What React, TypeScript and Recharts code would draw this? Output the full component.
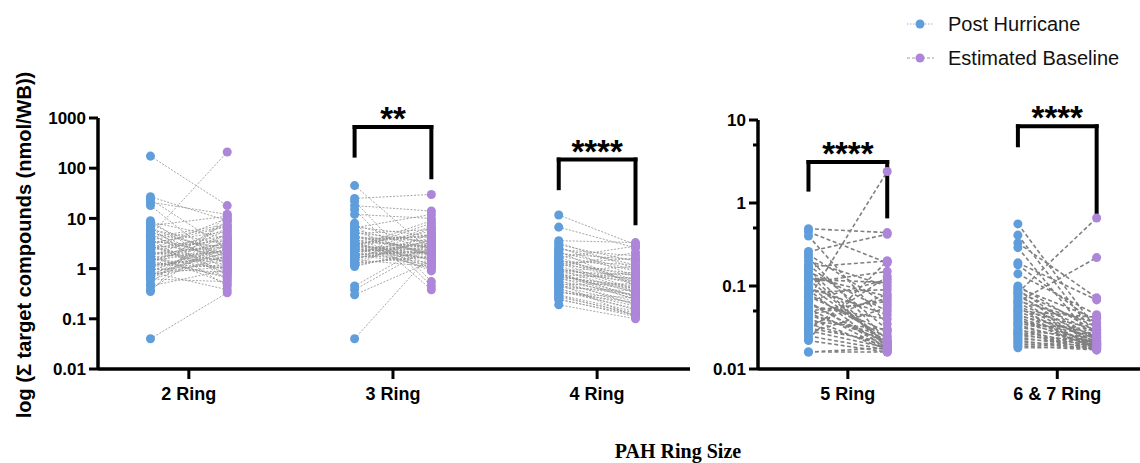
import React from 'react';
import { ComposedChart, Line, Scatter, XAxis, YAxis, ReferenceLine } from 'recharts';

// categories
const leftGroups = ['2 Ring', '3 Ring', '4 Ring'];
const rightGroups = ['5 Ring', '6 & 7 Ring'];

// paired values (nmol/WB), post hurricane vs estimated baseline, same index = same sample
const post2 = [174, 27, 24, 21, 18, 9.0, 8.5, 7.8, 7.2, 6.5, 6.0, 5.5, 5.0, 4.6, 4.2, 3.9, 3.6, 3.3, 3.0, 2.8, 2.6, 2.4, 2.2, 2.0, 1.9, 1.8, 1.7, 1.6, 1.5, 1.4, 1.3, 1.2, 1.1, 1.0, 0.95, 0.9, 0.85, 0.8, 0.75, 0.7, 0.65, 0.6, 0.5, 0.45, 0.38, 0.35, 0.04, 2.3, 3.1, 1.25,
  4.4, 3.4, 2.9, 2.5, 2.1, 1.85, 1.65, 1.45, 1.35, 1.15, 1.05, 0.98, 0.88, 0.78, 0.68, 0.62, 5.2, 6.2, 3.7, 2.7];
const base2 = [18, 9, 2.5, 12, 1.1, 0.9, 4.0, 1.6, 11, 0.6, 3.0, 1.3, 0.75, 210, 7.5, 0.45, 2.0, 5.5, 1.9, 0.8, 3.6, 10, 1.4, 2.7, 0.5, 6.2, 2.2, 1.0, 3.3, 0.7, 4.8, 1.7, 2.4, 8.5, 1.2, 3.0, 0.38, 2.1, 1.5, 5.0, 2.6, 1.8, 9.5, 0.95, 4.2, 12, 0.33, 3.9, 6.8, 1.05,
  1.5, 2.8, 0.9, 4.5, 1.2, 3.1, 0.65, 2.3, 5.8, 1.6, 2.0, 0.85, 3.5, 1.1, 2.9, 0.55, 2.4, 1.9, 7.0, 1.35];

const post3 = [45, 25, 22, 18, 15, 12, 8.0, 7.2, 6.5, 6.0, 5.5, 5.0, 4.6, 4.2, 3.9, 3.6, 3.4, 3.2, 3.0, 2.8, 2.6, 2.5, 2.4, 2.3, 2.2, 2.1, 2.0, 1.9, 1.8, 1.7, 1.6, 1.5, 1.4, 1.3, 1.2, 1.1, 0.45, 0.38, 0.3, 0.04, 2.7, 3.3, 4.0, 2.9, 1.95,
  5.2, 4.4, 3.7, 3.1, 2.75, 2.45, 2.15, 1.85, 1.65, 1.45, 1.25, 1.15, 6.8, 3.5, 2.35, 1.75];
const base3 = [2.2, 30, 0.55, 14, 0.45, 10, 0.38, 3.0, 12, 2.5, 1.8, 6.0, 2.0, 3.5, 1.2, 4.5, 2.8, 1.5, 5.5, 2.3, 1.0, 3.2, 8.0, 1.6, 2.6, 4.0, 1.3, 2.1, 7.0, 1.9, 2.9, 1.1, 3.8, 1.7, 5.0, 2.4, 3.3, 2.7, 1.4, 2.0, 9.0, 0.9, 4.2, 1.95, 2.2,
  3.4, 1.9, 2.6, 4.8, 1.5, 2.0, 3.1, 1.2, 2.5, 6.5, 1.8, 2.3, 4.4, 1.05, 2.85, 3.6];

const post4 = [11.7, 6.7, 3.6, 3.3, 3.0, 2.7, 2.4, 2.2, 2.0, 1.8, 1.65, 1.5, 1.4, 1.3, 1.2, 1.1, 1.0, 0.95, 0.9, 0.85, 0.8, 0.75, 0.7, 0.65, 0.6, 0.56, 0.52, 0.48, 0.45, 0.42, 0.39, 0.36, 0.33, 0.3, 0.27, 0.24, 0.19, 0.88, 0.62, 1.25, 0.72, 0.5,
  2.5, 2.1, 1.7, 1.45, 1.15, 0.98, 0.82, 0.68, 0.58, 0.46, 0.4, 0.34, 0.29, 0.25, 1.35, 0.78];
const base4 = [3.0, 2.6, 3.3, 1.0, 1.4, 0.7, 1.8, 0.45, 1.5, 0.9, 2.8, 0.6, 1.2, 0.38, 0.8, 2.1, 0.5, 0.33, 1.1, 0.55, 0.28, 0.65, 0.42, 0.25, 0.85, 0.3, 0.22, 0.5, 0.2, 0.36, 0.18, 0.16, 0.26, 0.14, 0.13, 0.12, 0.1, 0.75, 0.4, 1.6, 0.35, 0.11,
  1.2, 0.95, 0.5, 0.7, 0.35, 0.6, 0.27, 0.45, 0.19, 0.3, 0.15, 0.21, 0.12, 0.11, 0.55, 0.24];

const post5 = [0.49, 0.45, 0.40, 0.26, 0.24, 0.22, 0.2, 0.18, 0.17, 0.16, 0.15, 0.14, 0.13, 0.12, 0.11, 0.1, 0.095, 0.09, 0.085, 0.08, 0.075, 0.07, 0.066, 0.062, 0.058, 0.054, 0.05, 0.047, 0.044, 0.041, 0.038, 0.035, 0.033, 0.031, 0.029, 0.027, 0.025, 0.023, 0.022, 0.016, 0.016, 0.12, 0.065, 0.045, 0.03];
const base5 = [0.44, 0.19, 0.035, 0.42, 0.06, 0.022, 0.1, 0.03, 0.2, 0.019, 0.05, 0.018, 0.075, 0.02, 0.15, 0.021, 0.045, 0.017, 0.09, 0.024, 0.028, 2.4, 0.12, 0.02, 0.04, 0.017, 0.065, 0.022, 0.025, 0.017, 0.03, 0.019, 0.08, 0.021, 0.018, 0.055, 0.017, 0.2, 0.016, 0.018, 0.016, 0.11, 0.018, 0.07, 0.13];

const post67 = [0.56, 0.41, 0.33, 0.29, 0.19, 0.18, 0.14, 0.1, 0.095, 0.09, 0.085, 0.08, 0.075, 0.07, 0.066, 0.062, 0.058, 0.055, 0.052, 0.049, 0.046, 0.044, 0.042, 0.04, 0.038, 0.036, 0.034, 0.032, 0.03, 0.029, 0.028, 0.027, 0.026, 0.025, 0.024, 0.023, 0.022, 0.021, 0.02, 0.019, 0.018, 0.083, 0.064, 0.05, 0.035];
const base67 = [0.03, 0.025, 0.072, 0.02, 0.068, 0.035, 0.045, 0.028, 0.04, 0.022, 0.032, 0.02, 0.027, 0.019, 0.036, 0.024, 0.021, 0.018, 0.03, 0.023, 0.019, 0.026, 0.02, 0.018, 0.025, 0.022, 0.019, 0.021, 0.018, 0.024, 0.02, 0.017, 0.019, 0.022, 0.018, 0.02, 0.017, 0.019, 0.018, 0.017, 0.018, 0.66, 0.22, 0.042, 0.03];

// y ticks
const leftTicks = [0.01, 0.1, 1, 10, 100, 1000];
const rightTicks = [0.01, 0.05, 0.1, 0.5, 1, 5, 10];
const rightMajor = [0.01, 0.1, 1, 10];

// significance brackets: [group index, stars, top, left leg end, right leg end]
const leftSig: [number, string, number, number, number][] = [
  [2, '**', 661, 178, 66],
  [3, '****', 149, 40, 8],
];
const rightSig: [number, string, number, number, number][] = [
  [1, '****', 3.12, 1.45, 0.69],
  [2, '****', 8.4, 4.96, 0.71],
];

const BLUE = '#5f9ddb';
const PURPLE = '#ad85d9';
const FONT = '"Liberation Sans", Arial, sans-serif';
const OFF = 0.188;

type Pt = { x: number; y: number | null };

function dots(sets: number[][], side: number): Pt[] {
  const out: Pt[] = [];
  sets.forEach((vals, i) => vals.forEach((v) => out.push({ x: i + 1 + side * OFF, y: v })));
  return out;
}

function pairs(posts: number[][], bases: number[][]): Pt[] {
  const out: Pt[] = [];
  posts.forEach((post, i) => {
    post.forEach((v, j) => {
      out.push({ x: i + 1 - OFF, y: v }, { x: i + 1 + OFF, y: bases[i][j] }, { x: i + 1 + OFF, y: null });
    });
  });
  return out;
}

const YW = 60;

function makeTick(axisX: number, major: number[]) {
  return (props: any) => {
    const { y, payload } = props;
    const isMajor = major.includes(payload.value);
    return (
      <g>
        <line x1={axisX - (isMajor ? 9 : 5)} x2={axisX} y1={y} y2={y} stroke="#000" strokeWidth={3} />
        {isMajor && (
          <text x={axisX - 12} y={y} dy="0.36em" textAnchor="end" fontFamily={FONT} fontWeight="bold" fontSize={17} fill="#000">
            {payload.value}
          </text>
        )}
      </g>
    );
  };
}

function brackets(sig: [number, string, number, number, number][]) {
  const out: React.ReactNode[] = [];
  sig.forEach(([g, stars, top, l, r]) => {
    const x1 = g - OFF;
    const x2 = g + OFF;
    const common = { stroke: '#000', strokeWidth: 4, strokeLinecap: 'square' as const, ifOverflow: 'visible' as const };
    out.push(<ReferenceLine key={g + 'a'} segment={[{ x: x1, y: top }, { x: x1, y: l }]} {...common} />);
    out.push(<ReferenceLine key={g + 'b'} segment={[{ x: x2, y: top }, { x: x2, y: r }]} {...common} />);
    out.push(
      <ReferenceLine
        key={g + 'c'}
        segment={[{ x: x1, y: top }, { x: x2, y: top }]}
        {...common}
        label={(p: any) => (
          <text x={p.viewBox.x + p.viewBox.width / 2} y={p.viewBox.y + 3} textAnchor="middle" fontFamily={FONT} fontWeight="bold" fontSize={33} fill="#000">
            {stars}
          </text>
        )}
      />
    );
  });
  return out;
}

const axisLine = { stroke: '#000', strokeWidth: 3.5 };
const xTickStyle = { fill: '#000', fontSize: 18, fontWeight: 'bold', fontFamily: FONT };

function Panel(props: {
  left: number; top: number; width: number; height: number; mLeft: number; mRight: number;
  groups: string[]; posts: number[][]; bases: number[][]; xDomain: [number, number];
  yDomain: [number, number]; ticks: number[]; major: number[];
  sig: [number, string, number, number, number][]; lineW: number; dash: string; lineColor: string;
}) {
  const p = props;
  return (
    <div style={{ position: 'absolute', left: p.left, top: p.top }}>
      <ComposedChart width={p.width} height={p.height} margin={{ top: 40, right: p.mRight, bottom: 0, left: p.mLeft }}>
        <XAxis
          type="number"
          dataKey="x"
          domain={p.xDomain}
          allowDataOverflow
          ticks={p.groups.map((_, i) => i + 1)}
          interval={0}
          tickFormatter={(v: number) => p.groups[v - 1]}
          axisLine={axisLine}
          tickLine={{ stroke: '#000', strokeWidth: 3 }}
          tickSize={10}
          tickMargin={8}
          tick={xTickStyle}
          height={50}
        />
        <YAxis
          type="number"
          dataKey="y"
          scale="log"
          domain={p.yDomain}
          allowDataOverflow
          ticks={p.ticks}
          interval={0}
          axisLine={axisLine}
          tickLine={false}
          tickSize={9}
          tickMargin={3}
          tick={makeTick(p.mLeft + YW, p.major)}
          width={YW}
        />
        <Line
          data={pairs(p.posts, p.bases)}
          dataKey="y"
          stroke={p.lineColor}
          strokeWidth={p.lineW}
          strokeDasharray={p.dash}
          dot={false}
          activeDot={false}
          connectNulls={false}
          isAnimationActive={false}
        />
        <Scatter data={dots(p.posts, -1)} fill={BLUE} isAnimationActive={false} />
        <Scatter data={dots(p.bases, 1)} fill={PURPLE} isAnimationActive={false} />
        {brackets(p.sig)}
      </ComposedChart>
    </div>
  );
}

export default function App() {
  return (
    <div style={{ position: 'absolute', left: 0, top: 0, width: 1140, height: 463, background: '#fff', overflow: 'hidden', fontFamily: FONT }}>
      <Panel
        left={0} top={78} width={698} height={341} mLeft={38} mRight={8}
        groups={leftGroups} posts={[post2, post3, post4]} bases={[base2, base3, base4]}
        xDomain={[0.555, 3.455]} yDomain={[0.01, 1000]} ticks={leftTicks} major={leftTicks}
        sig={leftSig} lineW={0.8} dash="2 1.5" lineColor="#8f8f8f"
      />
      <Panel
        left={698} top={80} width={442} height={339} mLeft={0} mRight={0}
        groups={rightGroups} posts={[post5, post67]} bases={[base5, base67]}
        xDomain={[0.571, 2.395]} yDomain={[0.01, 10]} ticks={rightTicks} major={rightMajor}
        sig={rightSig} lineW={1.6} dash="4 2.5" lineColor="#808080"
      />
      <svg style={{ position: 'absolute', left: 0, top: 0 }} width={1140} height={463}>
        <text transform="translate(24,245) rotate(-90)" textAnchor="middle" dy="0.35em" fontFamily={FONT} fontWeight="bold" fontSize={20} fill="#000">
          log (Σ target compounds (nmol/WB))
        </text>
        <text x={678} y={458} textAnchor="middle" fontFamily='"Liberation Serif", "Times New Roman", serif' fontWeight="bold" fontSize={20} fill="#000">
          PAH Ring Size
        </text>
        <line x1={907} x2={934} y1={24} y2={24} stroke="#8fb5e0" strokeWidth={1} strokeDasharray="1.5 1.5" />
        <circle cx={920} cy={24} r={4.5} fill={BLUE} />
        <text x={948} y={24} dy="0.35em" fontFamily={FONT} fontSize={20} fill="#111">Post Hurricane</text>
        <line x1={907} x2={934} y1={58} y2={58} stroke="#9a9a9a" strokeWidth={1} strokeDasharray="3 2" />
        <circle cx={920} cy={58} r={4.5} fill={PURPLE} />
        <text x={948} y={58} dy="0.35em" fontFamily={FONT} fontSize={20} fill="#111">Estimated Baseline</text>
      </svg>
    </div>
  );
}
